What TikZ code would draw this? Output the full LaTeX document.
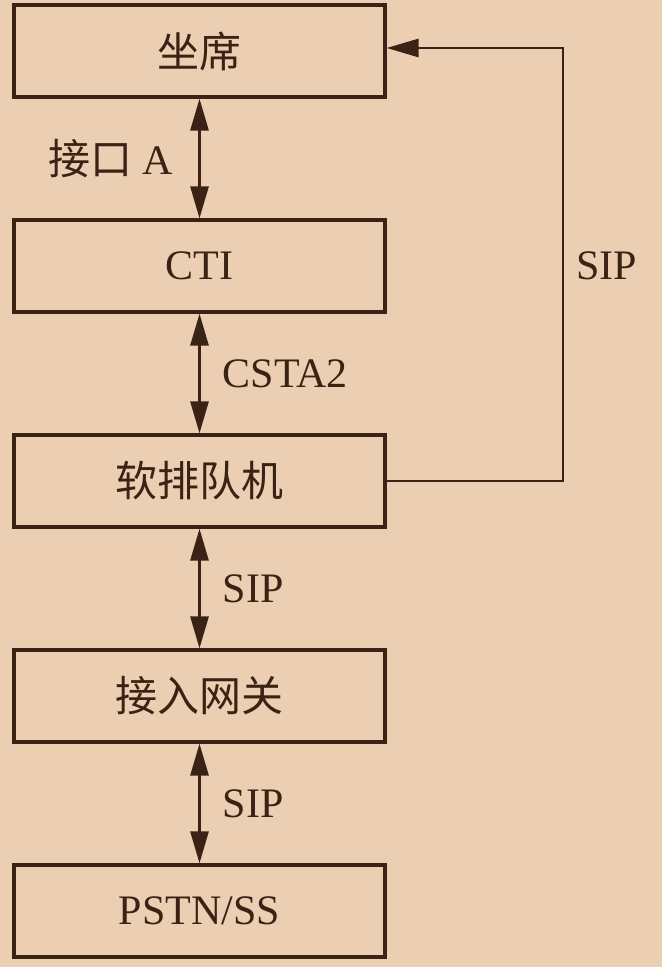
\documentclass[tikz,border=0pt]{standalone}
\usepackage{fontspec}
\setmainfont{Liberation Serif}
\newfontfamily\cjk{Noto Sans CJK SC}
\usetikzlibrary{arrows.meta,positioning}
\definecolor{paper}{HTML}{ECCFB2}
\definecolor{ink}{HTML}{3A2314}

\begin{document}
\begin{tikzpicture}[
    x=1pt, y=1pt,
    every node/.style={font=\fontsize{42}{46}\selectfont, text=ink, inner sep=0pt},
    block/.style={draw=ink, line width=3.2pt, minimum width=371pt, minimum height=92pt},
    link/.style={draw=ink, line width=2.8pt},
    >={Triangle[length=32pt,width=18pt]}
]
    \fill[paper] (0,0) rectangle (662,967);

    \node[block] (seat) at (199.5,916) {\cjk 坐席};
    \node[block] (cti)  at (199.5,701) {CTI};
    \node[block] (rq)   at (199.5,486) {\cjk 软排队机};
    \node[block] (gw)   at (199.5,271) {\cjk 接入网关};
    \node[block] (pstn) at (199.5,56)  {PSTN/SS};

    \draw[link,<->] (seat) -- node[left, xshift=-25pt]{{\cjk 接口}\ A} (cti);
    \draw[link,<->] (cti) -- node[right, xshift=22pt]{CSTA2} (rq);
    \draw[link,<->] (rq) -- node[right, xshift=22pt]{SIP} (gw);
    \draw[link,<->] (gw) -- node[right, xshift=22pt]{SIP} (pstn);

    % signalling back to the agent
    \coordinate (turn) at (563,701);
    \node[right=13pt of turn] (sipr) {SIP};
    \draw[link,->] (rq.east) -| (turn) |- ([yshift=3pt]seat.east);
\end{tikzpicture}
\end{document}
